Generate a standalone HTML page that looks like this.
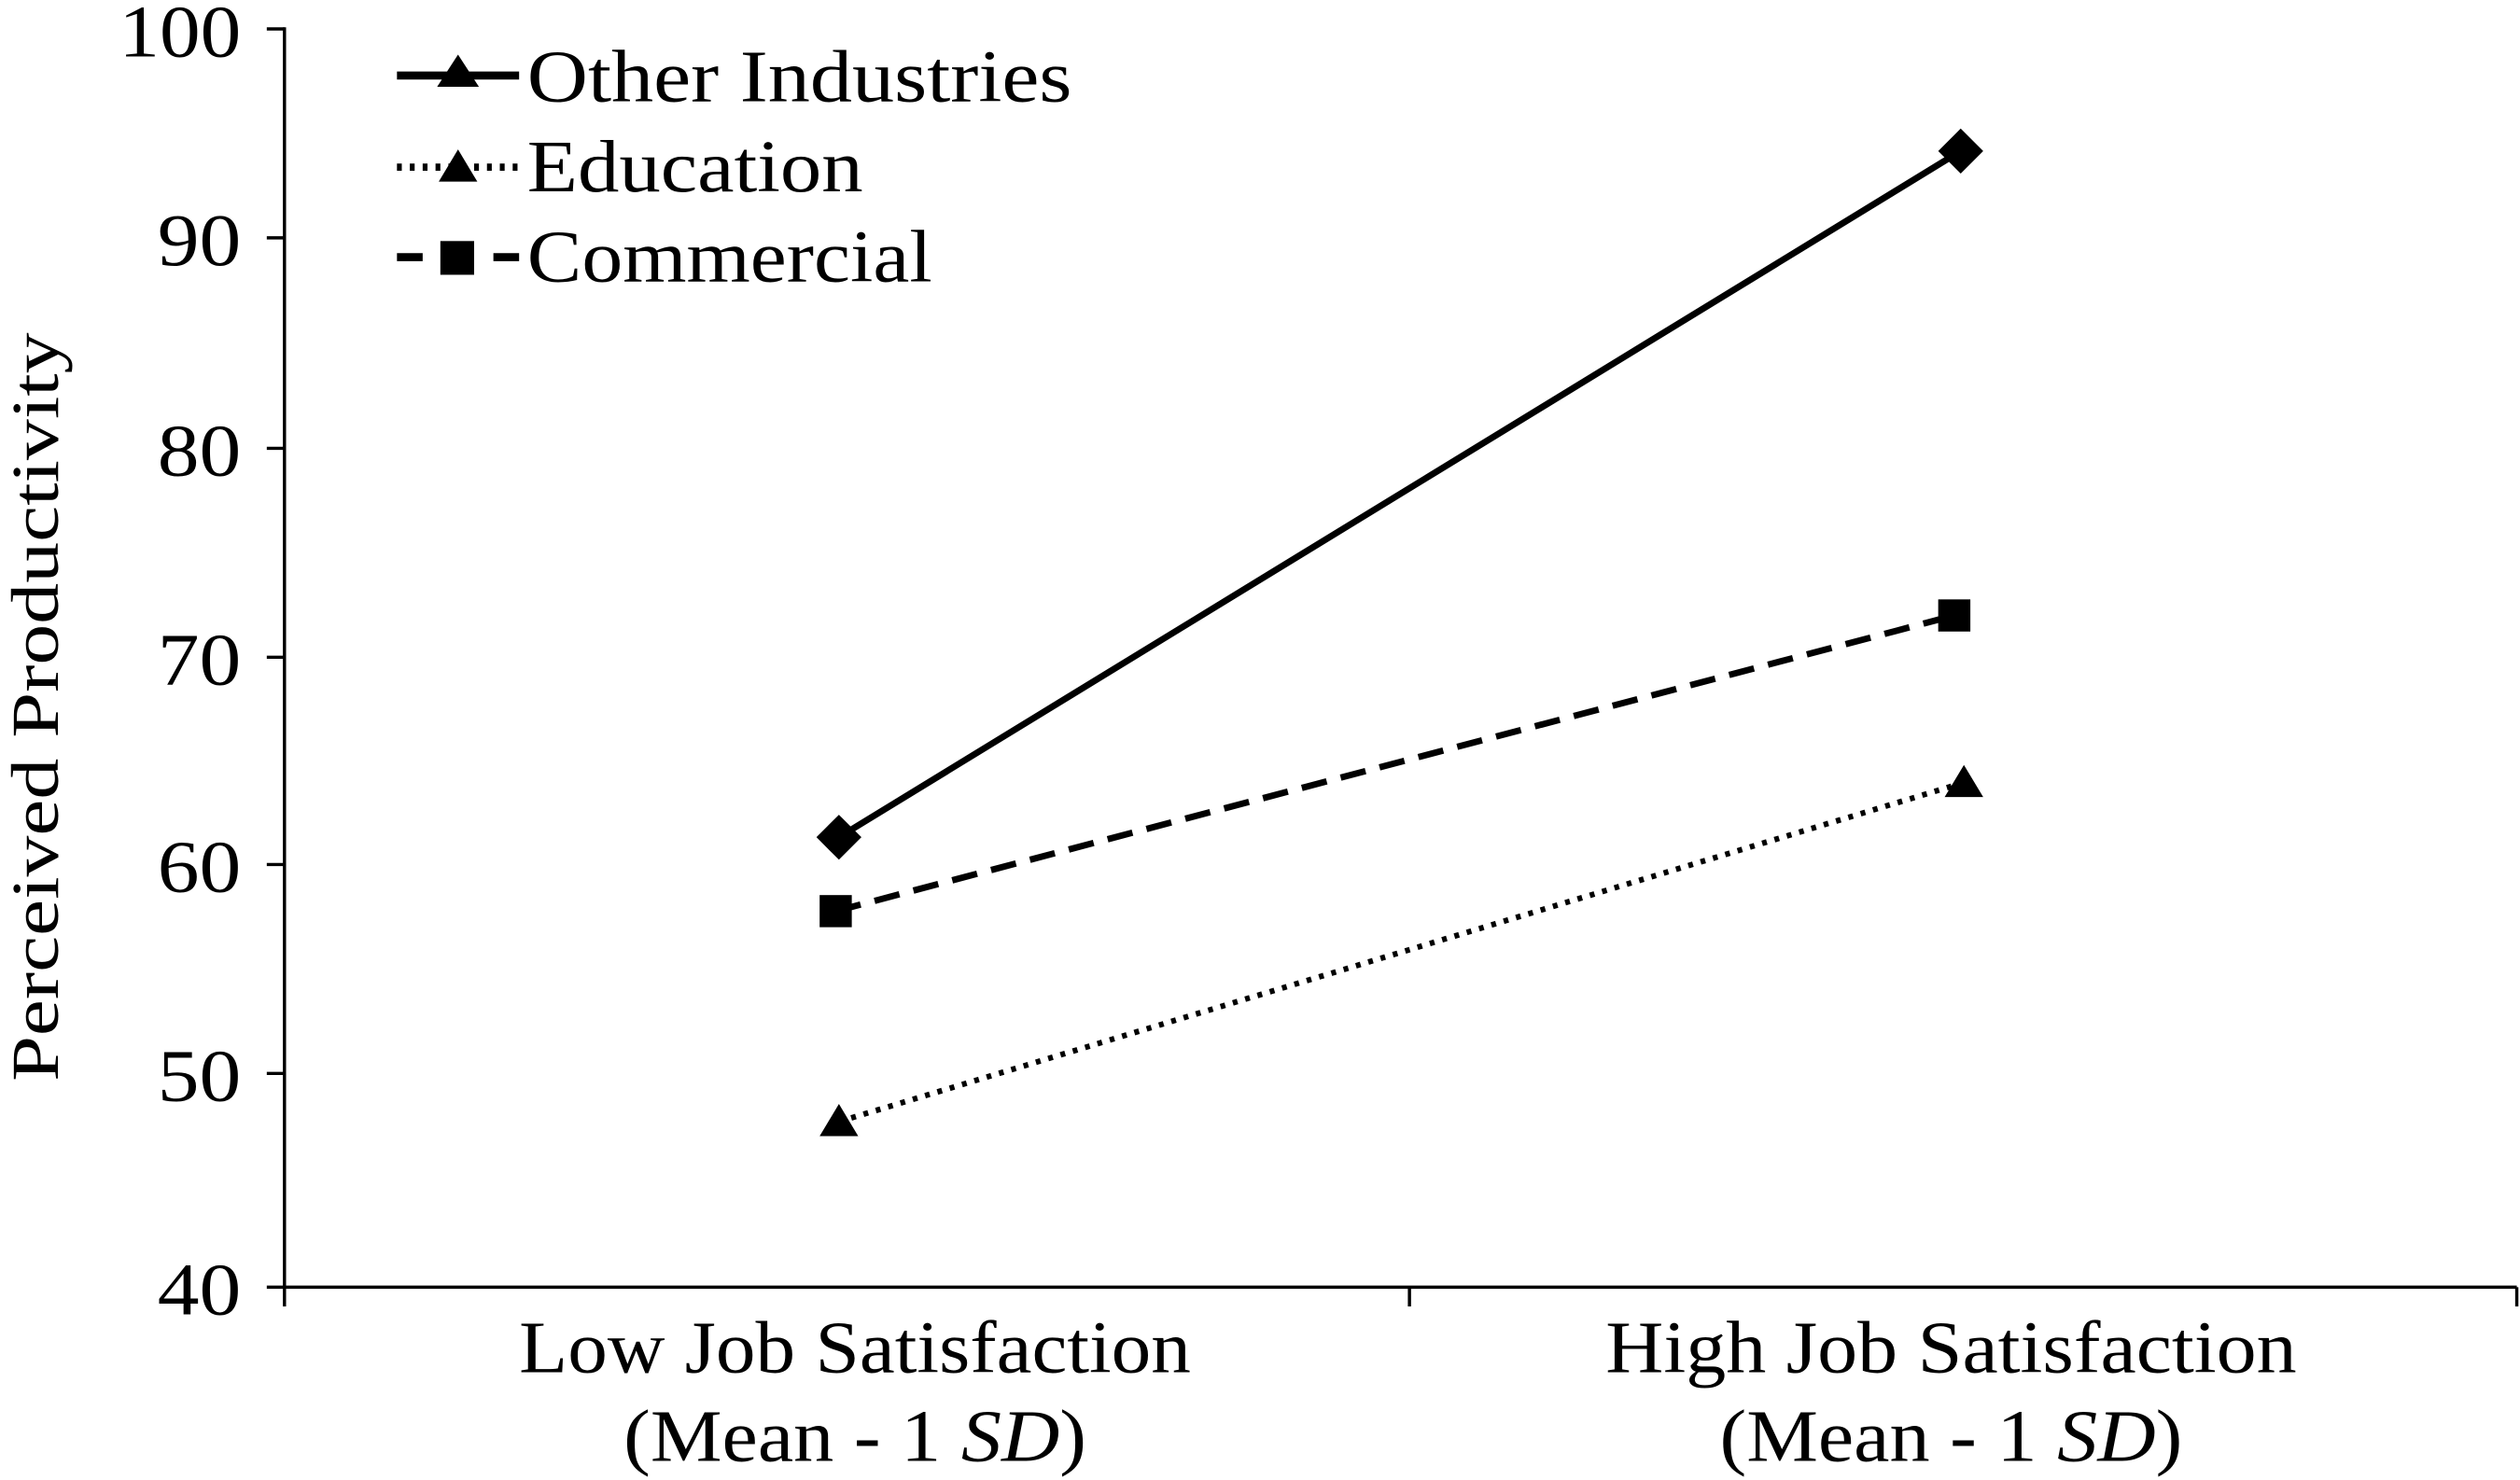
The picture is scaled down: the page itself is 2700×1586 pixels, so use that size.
<!DOCTYPE html>
<html><head><meta charset="utf-8"><style>html,body{margin:0;padding:0;background:#fff}svg{display:block}</style></head>
<body>
<svg width="2700" height="1586" viewBox="0 0 1568 921" preserveAspectRatio="none" xmlns="http://www.w3.org/2000/svg" font-family="'Liberation Serif', serif" fill="#000">
<rect width="1568" height="921" fill="#fff"/>
<g stroke="#000" stroke-width="2" fill="none">
<line x1="177" y1="17" x2="177" y2="802"/>
<line x1="176" y1="801" x2="1566" y2="801"/>
<line x1="166" y1="18" x2="177" y2="18"/>
<line x1="166" y1="148" x2="177" y2="148"/>
<line x1="166" y1="279" x2="177" y2="279"/>
<line x1="166" y1="409" x2="177" y2="409"/>
<line x1="166" y1="538" x2="177" y2="538"/>
<line x1="166" y1="668" x2="177" y2="668"/>
<line x1="166" y1="801" x2="177" y2="801"/>
<line x1="177" y1="801" x2="177" y2="813"/>
<line x1="877" y1="801" x2="877" y2="813"/>
<line x1="1566" y1="801" x2="1566" y2="813"/>
</g>
<g font-size="46" text-anchor="end">
<text x="150" y="35" textLength="76" lengthAdjust="spacingAndGlyphs">100</text>
<text x="150" y="165" textLength="52" lengthAdjust="spacingAndGlyphs">90</text>
<text x="150" y="296" textLength="52" lengthAdjust="spacingAndGlyphs">80</text>
<text x="150" y="426" textLength="52" lengthAdjust="spacingAndGlyphs">70</text>
<text x="150" y="555" textLength="52" lengthAdjust="spacingAndGlyphs">60</text>
<text x="150" y="685" textLength="52" lengthAdjust="spacingAndGlyphs">50</text>
<text x="150" y="818" textLength="52" lengthAdjust="spacingAndGlyphs">40</text>
</g>
<text transform="translate(36,440) rotate(-90)" font-size="42" text-anchor="middle" textLength="466" lengthAdjust="spacingAndGlyphs">Perceived Productivity</text>
<g font-size="46" text-anchor="middle">
<text x="532" y="854" textLength="418" lengthAdjust="spacingAndGlyphs">Low Job Satisfaction</text>
<text x="532" y="909" textLength="288" lengthAdjust="spacingAndGlyphs">(Mean - 1 <tspan font-style="italic">SD</tspan>)</text>
<text x="1214" y="854" textLength="430" lengthAdjust="spacingAndGlyphs">High Job Satisfaction</text>
<text x="1214" y="909" textLength="288" lengthAdjust="spacingAndGlyphs">(Mean - 1 <tspan font-style="italic">SD</tspan>)</text>
</g>
<line x1="522" y1="521" x2="1220" y2="94" stroke="#000" stroke-width="4"/>
<line x1="520" y1="567" x2="1216" y2="383" stroke="#000" stroke-width="4" stroke-dasharray="16,9"/>
<line x1="522" y1="698" x2="1222" y2="487" stroke="#000" stroke-width="3.5" stroke-dasharray="3,5"/>
<polygon points="522,507 536,521 522,535 508,521"/>
<polygon points="1220,80 1234,94 1220,108 1206,94"/>
<rect x="510" y="557" width="20" height="20"/>
<rect x="1206" y="373" width="20" height="20"/>
<polygon points="522,687 534,707 510,707"/>
<polygon points="1222,476 1234,496 1210,496"/>
<line x1="247" y1="47" x2="323" y2="47" stroke="#000" stroke-width="5"/>
<polygon points="285,34 298,54 272,54"/>
<line x1="247" y1="104" x2="323" y2="104" stroke="#000" stroke-width="4.5" stroke-dasharray="3,5"/>
<polygon points="285,93 297,113 273,113"/>
<line x1="247" y1="160" x2="263" y2="160" stroke="#000" stroke-width="5"/>
<line x1="307" y1="160" x2="323" y2="160" stroke="#000" stroke-width="5"/>
<rect x="274" y="150" width="21" height="21"/>
<g font-size="46">
<text x="328" y="63" textLength="339" lengthAdjust="spacingAndGlyphs">Other Industries</text>
<text x="328" y="119" textLength="209" lengthAdjust="spacingAndGlyphs">Education</text>
<text x="328" y="175" textLength="252" lengthAdjust="spacingAndGlyphs">Commercial</text>
</g>
</svg>
</body></html>
